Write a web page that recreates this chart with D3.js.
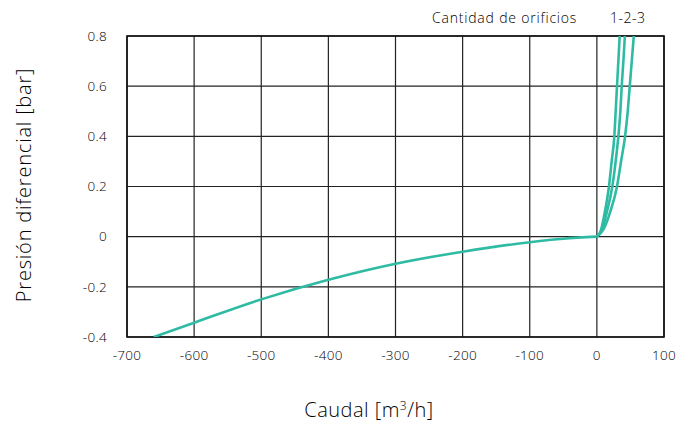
<!DOCTYPE html>
<html lang="es">
<head>
<meta charset="utf-8">
<title>Presión diferencial vs caudal</title>
<script src="https://d3js.org/d3.v7.min.js"></script>
<style>
  body { margin: 0; background: #fff; }
  text { font-family: "Open Sans", Lato, sans-serif; font-weight: 300; fill: #000; }
</style>
</head>
<body>
<div id="vis"></div>
<script>
// valores
var xTicks = [-700, -600, -500, -400, -300, -200, -100, 0, 100];
var yTicks = [-0.4, -0.2, 0, 0.2, 0.4, 0.6, 0.8];
var yTickLabels = ["-0.4", "-0.2", "0", "0.2", "0.4", "0.6", "0.8"];

var inversa = [[-660, -0.4], [-600, -0.343], [-500, -0.25], [-400, -0.172], [-300, -0.108],
  [-200, -0.06], [-100, -0.022], [-50, -0.008], [0, 0]];
var orificio1 = [[0, 0], [6, 0.025], [12, 0.1], [18, 0.2], [22, 0.3], [26, 0.4], [28, 0.5],
  [30, 0.6], [32, 0.7], [34, 0.8], [36, 0.9]];
var orificio2 = [[0, 0], [8, 0.03], [15, 0.1], [23, 0.2], [28, 0.3], [32, 0.4], [35, 0.5],
  [37, 0.6], [39.5, 0.7], [41.7, 0.8], [44, 0.9]];
var orificio3 = [[0, 0], [10, 0.03], [20, 0.1], [30, 0.2], [36, 0.3], [42, 0.4], [46, 0.5],
  [49, 0.6], [52, 0.7], [55, 0.8], [58, 0.9]];

var W = 679, H = 426;
var margin = { top: 36, right: 15, bottom: 89, left: 127 };

var svg = d3.select("#vis").append("svg").attr("width", W).attr("height", H);
var g = svg.append("g").attr("transform", "translate(" + margin.left + "," + margin.top + ")");

var x = d3.scaleLinear().domain([-700, 100]).range([0, 537]);
var y = d3.scaleLinear().domain([-0.4, 0.8]).range([301, 0]);

svg.append("defs").append("clipPath").attr("id", "clip")
  .append("rect").attr("width", 537).attr("height", 301);

// rejilla
g.selectAll(".gx").data(xTicks).enter().append("line")
  .attr("x1", d => x(d)).attr("x2", d => x(d)).attr("y1", 0).attr("y2", 301)
  .attr("stroke", "#222").attr("stroke-width", 1.2);
g.selectAll(".gy").data(yTicks).enter().append("line")
  .attr("y1", d => y(d)).attr("y2", d => y(d)).attr("x1", 0).attr("x2", 537)
  .attr("stroke", "#222").attr("stroke-width", 1.2);
g.append("rect").attr("width", 537).attr("height", 301)
  .attr("fill", "none").attr("stroke", "#111").attr("stroke-width", 1.6);

// etiquetas
g.selectAll(".tx").data(xTicks).enter().append("text")
  .attr("x", d => x(d)).attr("y", 324).attr("text-anchor", "middle")
  .attr("font-size", 13.5).attr("letter-spacing", 0.3).text(d => d);
g.selectAll(".ty").data(yTicks).enter().append("text")
  .attr("x", -20).attr("y", d => y(d)).attr("dy", "0.35em").attr("text-anchor", "end")
  .attr("font-size", 13.5).attr("letter-spacing", 0.3).text((d, i) => yTickLabels[i]);

// curvas
var linea = d3.line().x(d => x(d[0])).y(d => y(d[1])).curve(d3.curveMonotoneX);
var curvas = g.append("g").attr("clip-path", "url(#clip)");
[inversa, orificio1, orificio2, orificio3].forEach(function (serie) {
  curvas.append("path").datum(serie).attr("d", linea)
    .attr("fill", "none").attr("stroke", "#2fbba3").attr("stroke-width", 2.6);
});

// títulos
svg.append("text").attr("x", 369).attr("y", 417).attr("text-anchor", "middle")
  .attr("font-size", 20).attr("letter-spacing", 0.5)
  .html('Caudal [m<tspan dy="-7" font-size="12">3</tspan><tspan dy="7">/h]</tspan>');
svg.append("text").attr("transform", "translate(31,185) rotate(-90)")
  .attr("text-anchor", "middle").attr("font-size", 20).attr("letter-spacing", 0.8)
  .text("Presión diferencial [bar]");
svg.append("text").attr("x", 432).attr("y", 23).attr("font-size", 14).attr("letter-spacing", 0.8)
  .text("Cantidad de orificios");
svg.append("text").attr("x", 610).attr("y", 23).attr("font-size", 14).attr("letter-spacing", 0.5)
  .text("1-2-3");
</script>
</body>
</html>
